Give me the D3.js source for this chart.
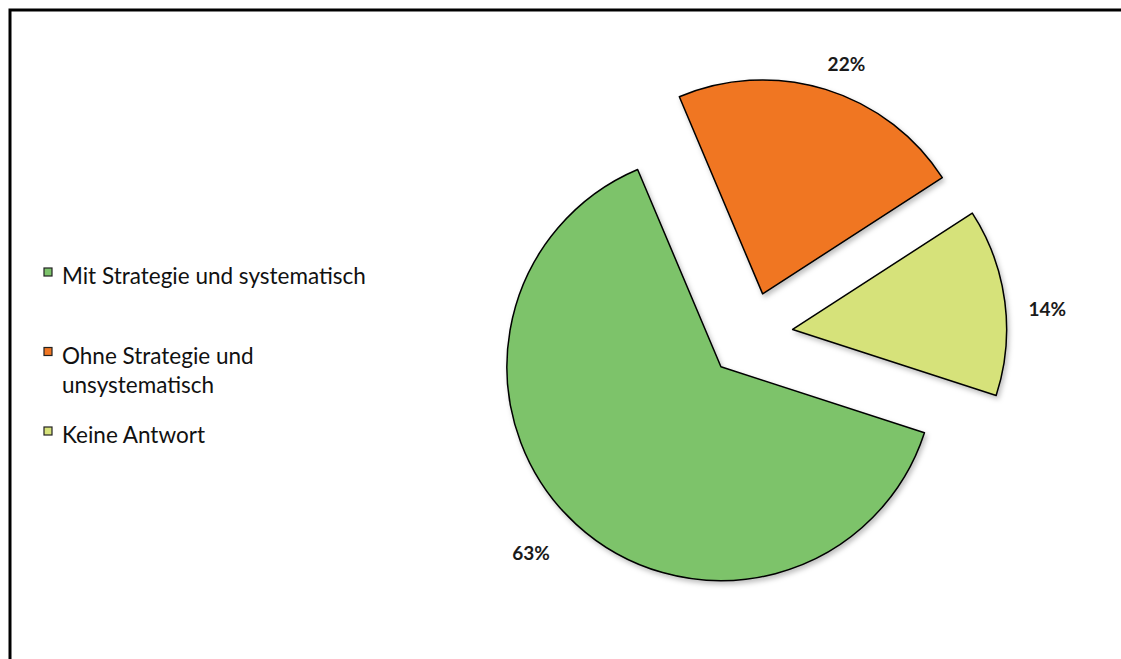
<!DOCTYPE html>
<html lang="de">
<head>
<meta charset="utf-8">
<title>Strategie – Kreisdiagramm</title>
<script src="https://d3js.org/d3.v7.min.js"></script>
<style>
  html, body { margin: 0; padding: 0; background: #fff; }
  svg { display: block; font-family: Lato, "Open Sans", sans-serif; }
</style>
</head>
<body>
<svg id="chart" width="1121" height="659"></svg>
<script>
// data
var categories = ["Mit Strategie und systematisch", "Ohne Strategie und unsystematisch", "Keine Antwort"];
var values = [63, 22, 14];
var colors = ["#7dc36b", "#f07623", "#d6e27a"];

var width = 1121, height = 659;
var svg = d3.select("#chart");

// frame (runs off the right and bottom of the picture)
svg.append("rect")
  .attr("x", 10).attr("y", 10)
  .attr("width", width + 20).attr("height", height + 20)
  .attr("fill", "none").attr("stroke", "#000").attr("stroke-width", 3);

var defs = svg.append("defs");
var f = defs.append("filter").attr("id", "shadow")
  .attr("x", "-20%").attr("y", "-20%").attr("width", "140%").attr("height", "140%");
f.append("feDropShadow").attr("dx", 2).attr("dy", 3).attr("stdDeviation", 2.5)
  .attr("flood-color", "#000").attr("flood-opacity", 0.25);

var cx = 750, cy = 335, radius = 214, explode = 43;
var startA = 108 * Math.PI / 180;

var data = categories.map(function(c, i) { return { name: c, value: values[i], color: colors[i] }; });

var pie = d3.pie().sort(null).value(function(d) { return d.value; })
  .startAngle(startA).endAngle(startA + 2 * Math.PI);
var arc = d3.arc().innerRadius(0).outerRadius(radius);
var arcs = pie(data);

var g = svg.append("g").attr("transform", "translate(" + cx + "," + cy + ")");

function mid(d) { return (d.startAngle + d.endAngle) / 2; }

g.selectAll(".slice")
  .data(arcs)
  .enter().append("path")
  .attr("class", "slice")
  .attr("transform", function(d) {
    var a = mid(d);
    return "translate(" + (Math.sin(a) * explode) + "," + (-Math.cos(a) * explode) + ")";
  })
  .attr("d", arc)
  .attr("fill", function(d) { return d.data.color; })
  .attr("stroke", "#000")
  .attr("stroke-width", 1.5)
  .attr("stroke-linejoin", "round")
  .attr("filter", "url(#shadow)");

// percent labels, outside end (the original sits a little clockwise of the bisector,
// and further out for the slices below the centre)
var labelTurn = 2.5 * Math.PI / 180;
function labelR(a) { return 300 - 13 * Math.cos(a); }
g.selectAll(".pct")
  .data(arcs)
  .enter().append("text")
  .attr("class", "pct")
  .attr("x", function(d) { var a = mid(d) + labelTurn; return Math.sin(a) * labelR(mid(d)); })
  .attr("y", function(d) { var a = mid(d) + labelTurn; return -Math.cos(a) * labelR(mid(d)) + 6.5; })
  .attr("text-anchor", "middle")
  .style("font-size", "19px")
  .style("font-weight", "bold")
  .style("fill", "#1a1a1a")
  .text(function(d) { return d.data.value + "%"; });

// legend
var legendX = 44, legendY = 284, itemStep = 79.5, lineH = 29, wrapW = 320;
var leg = svg.append("g").attr("class", "legend");

data.forEach(function(d, i) {
  var y0 = legendY + i * itemStep;
  leg.append("rect")
    .attr("x", legendX).attr("y", y0 - 16)
    .attr("width", 8).attr("height", 8)
    .attr("fill", d.color).attr("stroke", "#222").attr("stroke-width", 1.2);

  var t = leg.append("text")
    .attr("x", legendX + 18).attr("y", y0)
    .style("font-size", "22.5px").style("fill", "#111");

  // simple word wrap
  var words = d.name.split(" "), line = [], lineNo = 0;
  var tspan = t.append("tspan").attr("x", legendX + 18).attr("y", y0);
  words.forEach(function(w) {
    line.push(w);
    tspan.text(line.join(" "));
    if (tspan.node().getComputedTextLength() > wrapW && line.length > 1) {
      line.pop();
      tspan.text(line.join(" "));
      line = [w];
      lineNo++;
      tspan = t.append("tspan").attr("x", legendX + 18).attr("y", y0 + lineNo * lineH).text(w);
    }
  });
});
</script>
</body>
</html>
